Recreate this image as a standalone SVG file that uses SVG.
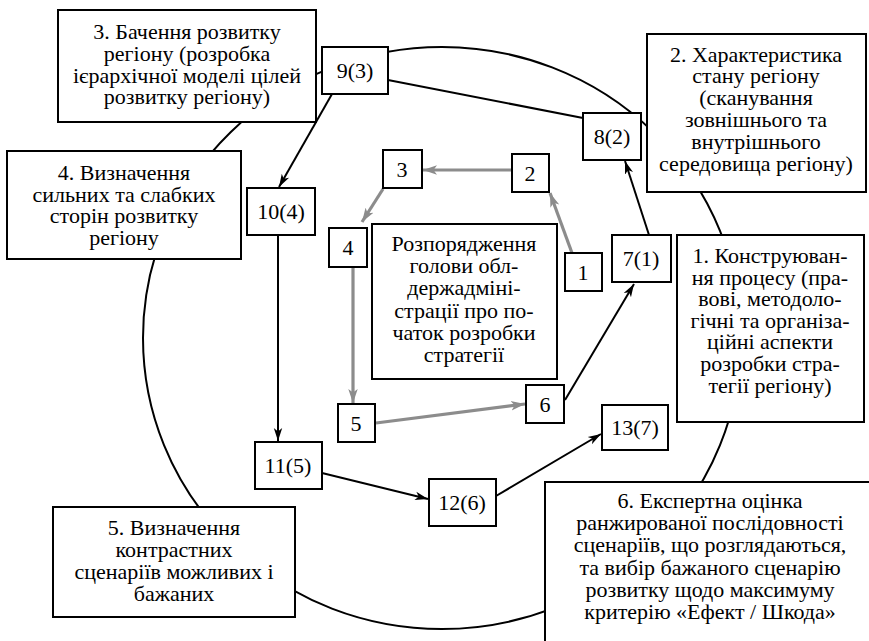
<svg xmlns="http://www.w3.org/2000/svg" width="869" height="641" viewBox="0 0 869 641">
<style>
.bx{fill:#fff;stroke:#000;stroke-width:2}
.t{font-family:'Liberation Serif','Times New Roman','DejaVu Serif',serif;font-size:22px;fill:#000;text-anchor:middle}
.bl{stroke:#000;stroke-width:2;fill:none}
.gr{stroke:#8c8c8c;stroke-width:3.2;fill:none}
</style>
<defs>
<marker id="ab" markerWidth="14" markerHeight="10" refX="13" refY="5" orient="auto" markerUnits="userSpaceOnUse"><path d="M0,0.8 L13,5 L0,9.2 L3.5,5 z" fill="#000"/></marker>
<marker id="ag" markerWidth="15" markerHeight="11" refX="14" refY="5.5" orient="auto" markerUnits="userSpaceOnUse"><path d="M0,0.8 L14,5.5 L0,10.2 L3.5,5.5 z" fill="#8c8c8c"/></marker>
</defs>
<rect width="869" height="641" fill="#fff"/>
<ellipse cx="442" cy="338" rx="299" ry="291" fill="none" stroke="#000" stroke-width="2"/>
<g id="connectors">
<line class="bl" x1="565" y1="400" x2="634" y2="284" marker-end="url(#ab)"/>
<line class="bl" x1="649" y1="235" x2="625" y2="161" marker-end="url(#ab)"/>
<line class="bl" x1="583" y1="118" x2="388" y2="80"/>
<line class="bl" x1="332" y1="94" x2="279" y2="187" marker-end="url(#ab)"/>
<line class="bl" x1="278" y1="235" x2="278" y2="441" marker-end="url(#ab)"/>
<line class="bl" x1="322" y1="473" x2="428" y2="499" marker-end="url(#ab)"/>
<line class="bl" x1="496" y1="496" x2="601" y2="434" marker-end="url(#ab)"/>
<line class="gr" x1="572" y1="253" x2="550" y2="193" marker-end="url(#ag)"/>
<line class="gr" x1="512" y1="170" x2="423" y2="170" marker-end="url(#ag)"/>
<line class="gr" x1="383" y1="189" x2="362" y2="222" marker-end="url(#ag)"/>
<line class="gr" x1="353" y1="267" x2="353" y2="403" marker-end="url(#ag)"/>
<line class="gr" x1="376" y1="423" x2="525" y2="404" marker-end="url(#ag)"/>
</g>
<g font-family="Liberation Serif, serif">
<g id="box3"><rect class="bx" x="58" y="10" width="258" height="112"/>
<text class="t" x="187" y="39">3. Бачення розвитку</text>
<text class="t" x="187" y="61">регіону (розробка</text>
<text class="t" x="187" y="83">ієрархічної моделі цілей</text>
<text class="t" x="187" y="104">розвитку регіону)</text></g>
<g id="box2"><rect class="bx" x="647" y="34" width="219" height="158"/>
<text class="t" x="756" y="62">2. Характеристика</text>
<text class="t" x="756" y="83">стану регіону</text>
<text class="t" x="756" y="105">(сканування</text>
<text class="t" x="756" y="127">зовнішнього та</text>
<text class="t" x="756" y="149">внутрішнього</text>
<text class="t" x="756" y="171">середовища регіону)</text></g>
<g id="box1"><rect class="bx" x="677" y="235" width="187" height="187"/>
<text class="t" x="770" y="263">1. Конструюван-</text>
<text class="t" x="770" y="285">ня процесу (пра-</text>
<text class="t" x="770" y="306">вові, методоло-</text>
<text class="t" x="770" y="328">гічні та організа-</text>
<text class="t" x="770" y="349">ційні аспекти</text>
<text class="t" x="770" y="371">розробки стра-</text>
<text class="t" x="770" y="393">тегії регіону)</text></g>
<g id="box4"><rect class="bx" x="7" y="151" width="234" height="108"/>
<text class="t" x="124" y="180">4. Визначення</text>
<text class="t" x="124" y="202">сильних та слабких</text>
<text class="t" x="124" y="223">сторін розвитку</text>
<text class="t" x="124" y="245">регіону</text></g>
<g id="box5"><rect class="bx" x="53" y="507" width="242" height="110"/>
<text class="t" x="174" y="535">5. Визначення</text>
<text class="t" x="174" y="557">контрастних</text>
<text class="t" x="174" y="579">сценаріїв можливих і</text>
<text class="t" x="174" y="601">бажаних</text></g>
<g id="box6"><rect class="bx" x="545" y="482" width="330" height="170"/>
<text class="t" x="710" y="508">6. Експертна оцінка</text>
<text class="t" x="710" y="530">ранжированої послідовності</text>
<text class="t" x="710" y="552">сценаріїв, що розглядаються,</text>
<text class="t" x="710" y="575">та вибір бажаного сценарію</text>
<text class="t" x="710" y="597">розвитку щодо максимуму</text>
<text class="t" x="710" y="619">критерію «Ефект / Шкода»</text></g>
<g id="center"><rect class="bx" x="372" y="224" width="185" height="155"/>
<text class="t" x="464" y="251">Розпорядження</text>
<text class="t" x="464" y="273">голови обл-</text>
<text class="t" x="464" y="295">держадміні-</text>
<text class="t" x="464" y="318">страції про по-</text>
<text class="t" x="464" y="340">чаток розробки</text>
<text class="t" x="464" y="362">стратегії</text></g>
<g id="n9"><rect class="bx" x="322" y="47" width="66" height="47"/><text class="t" x="355" y="78">9(3)</text></g>
<g id="n8"><rect class="bx" x="583" y="113" width="58" height="47"/><text class="t" x="612" y="144">8(2)</text></g>
<g id="n7"><rect class="bx" x="612" y="235" width="59" height="47"/><text class="t" x="641" y="266">7(1)</text></g>
<g id="n10"><rect class="bx" x="247" y="188" width="68" height="47"/><text class="t" x="281" y="219">10(4)</text></g>
<g id="n11"><rect class="bx" x="255" y="442" width="67" height="47"/><text class="t" x="288" y="473">11(5)</text></g>
<g id="n12"><rect class="bx" x="429" y="479" width="67" height="47"/><text class="t" x="462" y="510">12(6)</text></g>
<g id="n13"><rect class="bx" x="602" y="405" width="66" height="45"/><text class="t" x="635" y="435">13(7)</text></g>
<g id="s1"><rect class="bx" x="565" y="253" width="37" height="38"/><text class="t" x="583" y="280">1</text></g>
<g id="s2"><rect class="bx" x="512" y="154" width="37" height="38"/><text class="t" x="530" y="181">2</text></g>
<g id="s3"><rect class="bx" x="383" y="150" width="39" height="38"/><text class="t" x="402" y="177">3</text></g>
<g id="s4"><rect class="bx" x="329" y="228" width="38" height="39"/><text class="t" x="348" y="255">4</text></g>
<g id="s5"><rect class="bx" x="338" y="404" width="37" height="38"/><text class="t" x="356" y="431">5</text></g>
<g id="s6"><rect class="bx" x="526" y="385" width="38" height="38"/><text class="t" x="545" y="412">6</text></g>
</g>
</svg>
